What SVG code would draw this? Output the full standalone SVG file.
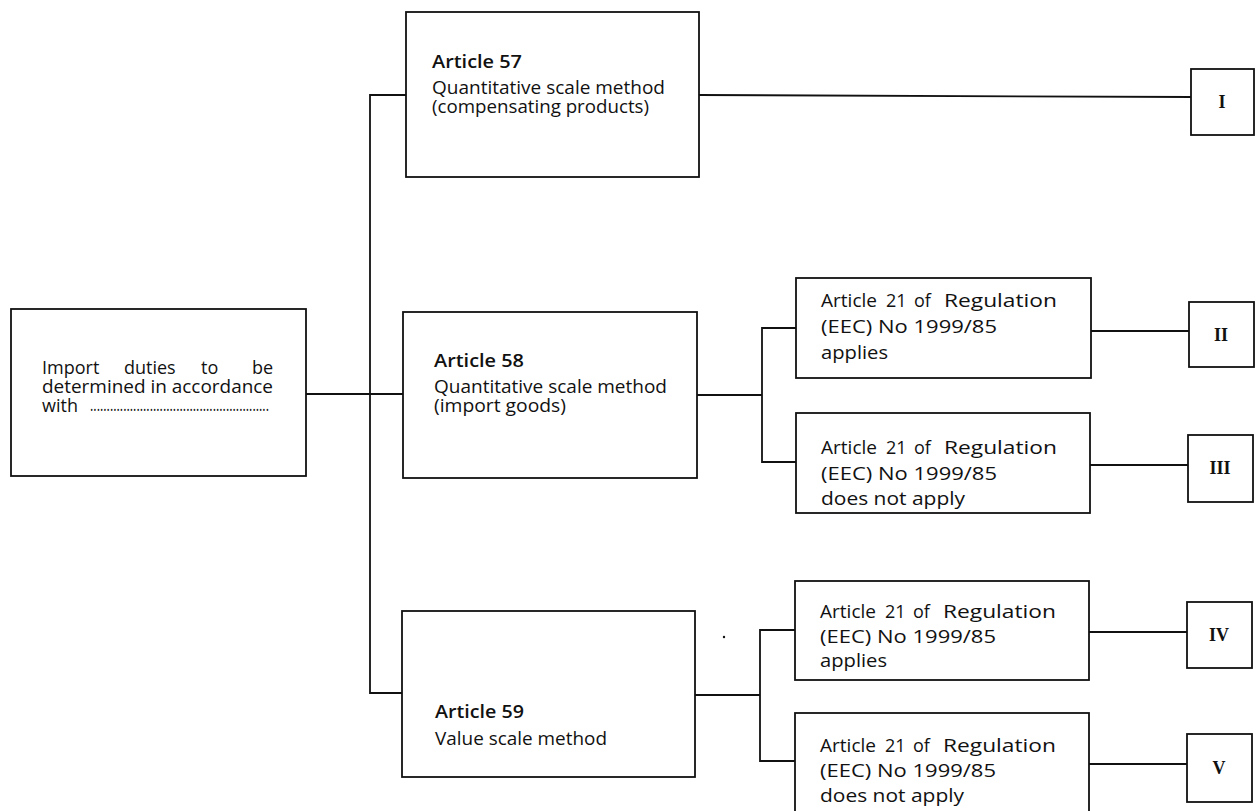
<svg xmlns="http://www.w3.org/2000/svg" width="1257" height="811" viewBox="0 0 1257 811">
<style>
.box{fill:#fff;stroke:#111;stroke-width:1.8}
.ln{fill:none;stroke:#111;stroke-width:1.8}
.t{font-family:"Open Sans","Liberation Sans",sans-serif;font-size:18px;fill:#111}
.ts{font-family:"Open Sans","Liberation Sans",sans-serif;font-size:18px;fill:#111}
.b{font-weight:600}
.e{text-anchor:end}
.r{font-family:"Liberation Serif","DejaVu Serif",serif;font-size:18px;font-weight:bold;fill:#111;text-anchor:middle}
</style>
<rect width="1257" height="811" fill="#fff"/>
<g id="connectors">
<path class="ln" d="M306,394 H403"/>
<path class="ln" d="M406,95 H370 V693 H402"/>
<path class="ln" d="M699,95 L1191,97"/>
<path class="ln" d="M697,395 H762 M796,328 H762 V462 H796"/>
<path class="ln" d="M1091,331 H1189 M1090,465 H1188"/>
<path class="ln" d="M695,695 H760 M795,630 H760 V761 H795"/>
<path class="ln" d="M1089,632 H1187 M1089,764 H1187"/>
</g>
<g id="start">
<rect class="box" x="11" y="309" width="295" height="167"/>
<text class="t" y="374"><tspan x="42">Import</tspan><tspan x="124">duties</tspan><tspan x="201">to</tspan></text>
<text class="t e" x="273" y="374">be</text>
<text class="t" x="42" y="393" textLength="231" lengthAdjust="spacingAndGlyphs">determined in accordance</text>
<text class="t" x="42" y="412">with</text>
<text class="t" x="90" y="411" font-size="12" textLength="179" lengthAdjust="spacingAndGlyphs">......................................................</text>
</g>
<g id="art57">
<rect class="box" x="406" y="12" width="293" height="165"/>
<text class="t b" x="432" y="68" textLength="90" lengthAdjust="spacingAndGlyphs">Article 57</text>
<text class="t" x="432" y="94" textLength="233" lengthAdjust="spacingAndGlyphs">Quantitative scale method</text>
<text class="t" x="432" y="113" textLength="217" lengthAdjust="spacingAndGlyphs">(compensating products)</text>
</g>
<g id="art58">
<rect class="box" x="403" y="312" width="294" height="166"/>
<text class="t b" x="434" y="367" textLength="90" lengthAdjust="spacingAndGlyphs">Article 58</text>
<text class="t" x="434" y="393" textLength="233" lengthAdjust="spacingAndGlyphs">Quantitative scale method</text>
<text class="t" x="434" y="412" textLength="132" lengthAdjust="spacingAndGlyphs">(import goods)</text>
</g>
<g id="art59">
<rect class="box" x="402" y="611" width="293" height="166"/>
<text class="t b" x="435" y="718" textLength="89" lengthAdjust="spacingAndGlyphs">Article 59</text>
<text class="t" x="435" y="745" textLength="172" lengthAdjust="spacingAndGlyphs">Value scale method</text>
</g>
<g id="sub58a">
<rect class="box" x="796" y="278" width="295" height="100"/>
<text class="ts" y="307"><tspan x="821" textLength="56" lengthAdjust="spacingAndGlyphs">Article</tspan><tspan x="886">21</tspan><tspan x="914">of</tspan><tspan x="944" textLength="113" lengthAdjust="spacingAndGlyphs">Regulation</tspan></text>
<text class="ts" x="821" y="333" textLength="176" lengthAdjust="spacingAndGlyphs">(EEC) No 1999/85</text>
<text class="ts" x="821" y="359" textLength="67" lengthAdjust="spacingAndGlyphs">applies</text>
</g>
<g id="sub58b">
<rect class="box" x="796" y="413" width="294" height="100"/>
<text class="ts" y="454"><tspan x="821" textLength="56" lengthAdjust="spacingAndGlyphs">Article</tspan><tspan x="886">21</tspan><tspan x="914">of</tspan><tspan x="944" textLength="113" lengthAdjust="spacingAndGlyphs">Regulation</tspan></text>
<text class="ts" x="821" y="480" textLength="176" lengthAdjust="spacingAndGlyphs">(EEC) No 1999/85</text>
<text class="ts" x="821" y="505" textLength="144" lengthAdjust="spacingAndGlyphs">does not apply</text>
</g>
<g id="sub59a">
<rect class="box" x="795" y="581" width="294" height="99"/>
<text class="ts" y="618"><tspan x="820" textLength="56" lengthAdjust="spacingAndGlyphs">Article</tspan><tspan x="885">21</tspan><tspan x="913">of</tspan><tspan x="943" textLength="113" lengthAdjust="spacingAndGlyphs">Regulation</tspan></text>
<text class="ts" x="820" y="643" textLength="176" lengthAdjust="spacingAndGlyphs">(EEC) No 1999/85</text>
<text class="ts" x="820" y="667" textLength="67" lengthAdjust="spacingAndGlyphs">applies</text>
</g>
<g id="sub59b">
<rect class="box" x="795" y="713" width="294" height="110"/>
<text class="ts" y="752"><tspan x="820" textLength="56" lengthAdjust="spacingAndGlyphs">Article</tspan><tspan x="885">21</tspan><tspan x="913">of</tspan><tspan x="943" textLength="113" lengthAdjust="spacingAndGlyphs">Regulation</tspan></text>
<text class="ts" x="820" y="777" textLength="176" lengthAdjust="spacingAndGlyphs">(EEC) No 1999/85</text>
<text class="ts" x="820" y="802" textLength="144" lengthAdjust="spacingAndGlyphs">does not apply</text>
</g>
<g id="resI"><rect class="box" x="1191" y="69" width="63" height="66"/><text class="r" x="1222" y="108">I</text></g>
<g id="resII"><rect class="box" x="1189" y="302" width="65" height="65"/><text class="r" x="1221" y="341">II</text></g>
<g id="resIII"><rect class="box" x="1188" y="435" width="65" height="67"/><text class="r" x="1220" y="474">III</text></g>
<g id="resIV"><rect class="box" x="1187" y="602" width="65" height="66"/><text class="r" x="1219" y="641">IV</text></g>
<g id="resV"><rect class="box" x="1187" y="734" width="65" height="68"/><text class="r" x="1219" y="774">V</text></g>
<circle cx="724" cy="637" r="1.2" fill="#111"/>
</svg>
